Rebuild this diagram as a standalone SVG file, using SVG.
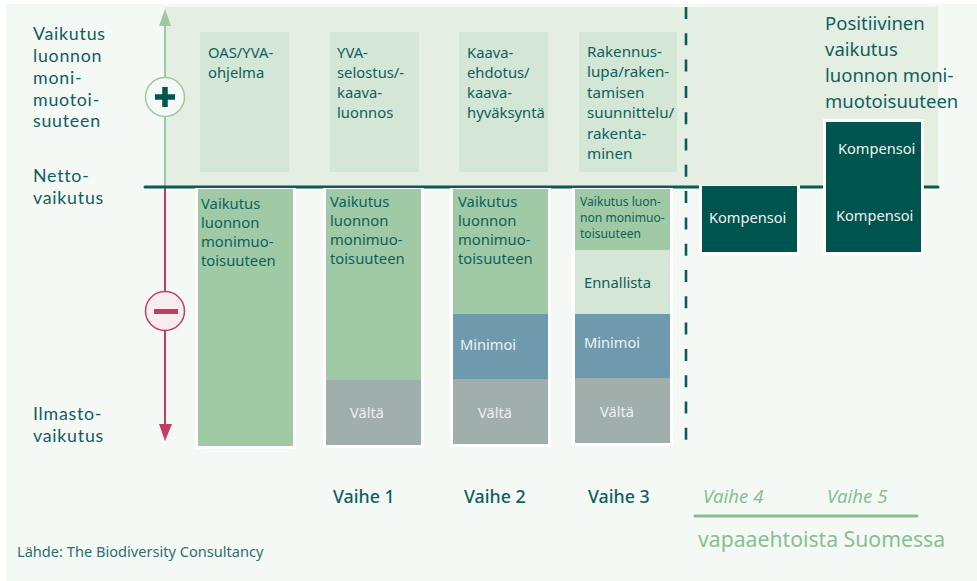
<svg xmlns="http://www.w3.org/2000/svg" width="977" height="581" viewBox="0 0 977 581">
<style>
text{font-family:"Noto Sans","Liberation Sans",sans-serif;fill:#0f5f5c}
.h{font-size:18px}
.a{font-family:Lato,"Noto Sans",sans-serif;font-size:17.8px;letter-spacing:.75px}
.s{font-size:14.8px}
.w{fill:#eef3f0;font-size:14.6px}
.x{font-size:12.1px}
.b{fill:#fff}
.lt{fill:#d4e6d6}
.g{fill:#9fcaa5}
.bl{fill:#6f9aad}
.gr{fill:#a0aeac}
.dk{fill:#00544f}
.v{font-size:17.8px;font-weight:500}
.i{font-size:18.6px;font-style:italic;fill:#87bf93}
</style>
<rect width="977" height="581" fill="#fff"/>
<rect x="6" y="4" width="971" height="577" fill="#f4f9f6"/>
<rect x="165" y="7" width="773" height="179" fill="#e4eee3"/>
<g id="connectors">
<line x1="165" y1="20" x2="165" y2="186" stroke="#9bc9a3" stroke-width="2"/>
<polygon points="165,9 171,26 159,26" fill="#9bc9a3"/>
<line x1="165" y1="187" x2="165" y2="426" stroke="#bf3f63" stroke-width="2"/>
<polygon points="165,441 159,424 172,424" fill="#bf3f63"/>
<line x1="145" y1="187" x2="938" y2="187" stroke="#0c5a56" stroke-width="3" stroke-linecap="round"/>
<line x1="686" y1="7" x2="686" y2="442" stroke="#0c5a56" stroke-width="2.6" stroke-dasharray="12 14.3"/>
<line x1="695" y1="516" x2="917" y2="516" stroke="#87bf93" stroke-width="3" stroke-linecap="round"/>
</g>
<g id="plus"><circle cx="165" cy="97" r="19.5" fill="#f4f9f6" stroke="#9bc9a3" stroke-width="1.5"/><path d="M155 97H175M165 87V107" stroke="#00544f" stroke-width="5.5"/></g>
<g id="minus"><circle cx="165" cy="311" r="19.5" fill="#f8ecef" stroke="#bf3f63" stroke-width="1.5"/><rect x="154" y="309" width="24" height="5" fill="#bf3f63"/></g>
<g id="axis-labels">
<text class="a"><tspan x="33" y="40">Vaikutus</tspan><tspan x="33" y="62">luonnon</tspan><tspan x="33" y="84">moni-</tspan><tspan x="33" y="105.500">muotoi-</tspan><tspan x="33" y="127">suuteen</tspan></text>
<text class="a"><tspan x="33" y="182">Netto-</tspan><tspan x="33" y="204">vaikutus</tspan></text>
<text class="a"><tspan x="33" y="420">Ilmasto-</tspan><tspan x="33" y="442">vaikutus</tspan></text>
</g>
<g id="stage-oas"><rect class="lt" x="200" y="32" width="89" height="140"/><text class="s"><tspan x="208" y="58">OAS/YVA-</tspan><tspan x="208" y="78">ohjelma</tspan></text></g>
<g id="stage-yva"><rect class="lt" x="330" y="32" width="89" height="140"/><text class="s"><tspan x="337" y="58">YVA-</tspan><tspan x="337" y="78">selostus/-</tspan><tspan x="337" y="98">kaava-</tspan><tspan x="337" y="118">luonnos</tspan></text></g>
<g id="stage-kaava"><rect class="lt" x="459" y="32" width="89" height="140"/><text class="s"><tspan x="467" y="58">Kaava-</tspan><tspan x="467" y="78">ehdotus/</tspan><tspan x="467" y="98">kaava-</tspan><tspan x="467" y="118">hyväksyntä</tspan></text></g>
<g id="stage-rak"><rect class="lt" x="579" y="32" width="98" height="140"/><text class="s" style="font-size:15.2px"><tspan x="587" y="57">Rakennus-</tspan><tspan x="587" y="77">lupa/raken-</tspan><tspan x="587" y="98">tamisen</tspan><tspan x="587" y="118">suunnittelu/</tspan><tspan x="587" y="139">rakenta-</tspan><tspan x="587" y="159">minen</tspan></text></g>
<g id="bar-1"><rect class="b" x="195" y="188" width="101" height="261"/><rect class="g" x="198" y="189" width="95" height="257"/><text class="s"><tspan x="201" y="209">Vaikutus</tspan><tspan x="201" y="228">luonnon</tspan><tspan x="201" y="247">monimuo-</tspan><tspan x="201" y="266">toisuuteen</tspan></text></g>
<g id="bar-2"><rect class="b" x="323" y="188" width="101" height="260"/><rect class="g" x="326" y="189" width="95" height="191"/><rect class="gr" x="326" y="380" width="95" height="65"/><text class="s"><tspan x="330" y="207">Vaikutus</tspan><tspan x="330" y="226">luonnon</tspan><tspan x="330" y="245">monimuo-</tspan><tspan x="330" y="264">toisuuteen</tspan></text><text class="w" x="350" y="418">Vältä</text></g>
<g id="bar-3"><rect class="b" x="450" y="188" width="101" height="259"/><rect class="g" x="453" y="189" width="95" height="125"/><rect class="bl" x="453" y="314" width="95" height="65"/><rect class="gr" x="453" y="379" width="95" height="65"/><text class="s"><tspan x="458" y="207">Vaikutus</tspan><tspan x="458" y="226">luonnon</tspan><tspan x="458" y="245">monimuo-</tspan><tspan x="458" y="264">toisuuteen</tspan></text><text class="w" x="460" y="350">Minimoi</text><text class="w" x="478" y="418">Vältä</text></g>
<g id="bar-4"><rect class="b" x="572" y="188" width="101" height="258"/><rect class="g" x="575" y="189" width="95" height="61"/><rect class="lt" x="575" y="250" width="95" height="64"/><rect class="bl" x="575" y="314" width="95" height="64"/><rect class="gr" x="575" y="378" width="95" height="65"/><text class="x"><tspan x="580" y="206">Vaikutus luon-</tspan><tspan x="580" y="222">non monimuo-</tspan><tspan x="580" y="238">toisuuteen</tspan></text><text class="s" x="584" y="288">Ennallista</text><text class="w" x="584" y="348">Minimoi</text><text class="w" x="600" y="417">Vältä</text></g>
<g id="comp-4"><rect class="b" x="699" y="185" width="101" height="70"/><rect class="dk" x="702" y="186" width="95" height="66"/><text class="w" x="709" y="223">Kompensoi</text></g>
<g id="comp-5"><rect class="b" x="823" y="119" width="101" height="136"/><rect class="dk" x="826" y="122" width="95" height="130"/><text class="w" x="838" y="154">Kompensoi</text><text class="w" x="836" y="221">Kompensoi</text></g>
<g id="positive"><text class="h" style="font-size:18.5px"><tspan x="825" y="30">Positiivinen</tspan><tspan x="825" y="56">vaikutus</tspan><tspan x="825" y="82">luonnon moni-</tspan><tspan x="825" y="108">muotoisuuteen</tspan></text></g>
<g id="phases">
<text class="v" x="333" y="503">Vaihe 1</text><text class="v" x="464" y="503">Vaihe 2</text><text class="v" x="588" y="503">Vaihe 3</text>
<text class="i" x="703" y="503">Vaihe 4</text><text class="i" x="827" y="503">Vaihe 5</text>
<text x="698" y="547" style="font-size:21.2px;fill:#87bf93">vapaaehtoista Suomessa</text>
<text x="17" y="557" style="font-size:14.6px;fill:#2f6f6b">Lähde: The Biodiversity Consultancy</text>
</g>
</svg>
